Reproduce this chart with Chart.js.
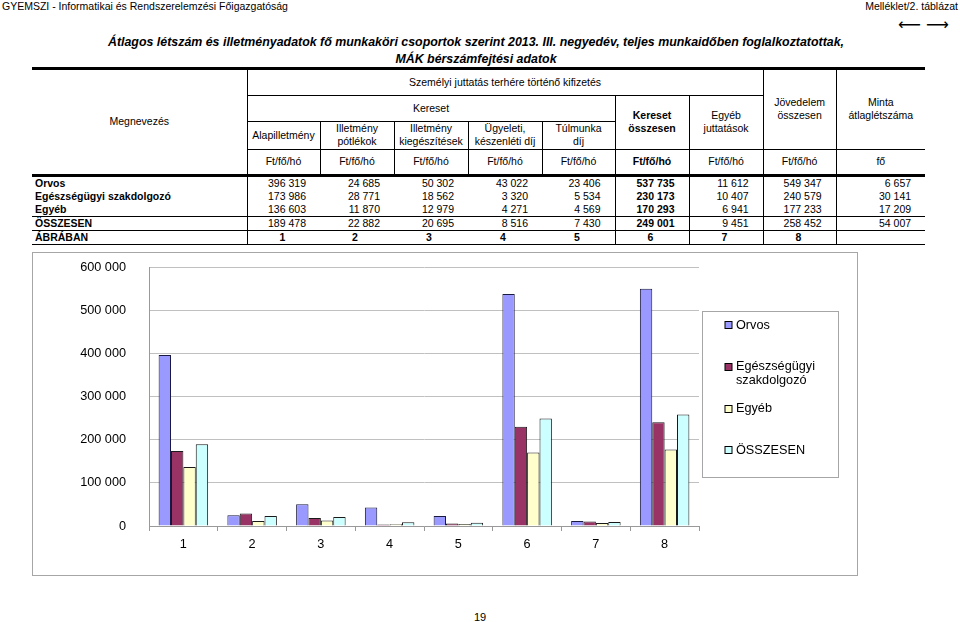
<!DOCTYPE html>
<html>
<head>
<meta charset="utf-8">
<script src="https://cdn.jsdelivr.net/npm/chart.js@4"></script>
<style>
    body { margin: 0; width: 960px; height: 622px; position: relative; overflow: hidden; background: #fff;
           font-family: "Liberation Sans", Arial, sans-serif; color: #000; }
    .top-left { position: absolute; left: 2px; top: 0px; font-size: 10.5px; }
    .top-right { position: absolute; right: 2px; top: 0px; font-size: 10.5px; }
    .arrows { position: absolute; left: 898px; top: 15px; font-size: 16px; font-family: "DejaVu Sans", sans-serif; }
    .title { position: absolute; left: 0; top: 34px; width: 952px; text-align: center; font-weight: bold;
             font-style: italic; font-size: 12.4px; line-height: 17px; }
    table { position: absolute; left: 32px; top: 67px; width: 893px; border-collapse: collapse; table-layout: fixed;
            font-size: 10.5px; border-top: 3px solid #000; }
    th { font-weight: normal; padding: 0; text-align: center; line-height: 13.3px; }
    td { padding: 0; height: 13px; line-height: 13px; white-space: nowrap; }
    .r { border-right: 1px solid #000; }
    .b { border-bottom: 1px solid #000; }
    .bold { font-weight: bold; }
    tbody tr:first-child td { border-top: 3px solid #000; }
    td.name { font-weight: bold; padding-left: 3px; text-align: left; }
    td.num { text-align: right; padding-right: 14px; }
    td.fig { text-align: left; padding-left: 32px; font-weight: bold; }
    tr.sum td { border-top: 1px solid #000; }
    tr.last td { border-top: 1px solid #000; border-bottom: 1px solid #000; }
    #chartBox { position: absolute; left: 32px; top: 252px; width: 824px; height: 322px; border: 1px solid #a6a6a6; }
    #barChart { display: block; }
    .page { position: absolute; left: 0; width: 960px; top: 611px; text-align: center; font-size: 11px; }
</style>
</head>
<body>
<div class="top-left">GYEMSZI - Informatikai és Rendszerelemzési Főigazgatóság</div>
<div class="top-right">Melléklet/2. táblázat</div>
<div class="arrows">⟵ ⟶</div>
<div class="title">Átlagos létszám és illetményadatok fő munkaköri csoportok szerint 2013. III. negyedév, teljes munkaidőben foglalkoztatottak,<br>MÁK bérszámfejtési adatok</div>

<table id="dataTable">
    <colgroup>
        <col style="width:215px"><col style="width:73px"><col style="width:74px"><col style="width:74px"><col style="width:74px">
        <col style="width:73px"><col style="width:74px"><col style="width:74px"><col style="width:73px"><col style="width:89px">
    </colgroup>
    <thead>
        <tr style="height:27px">
            <th rowspan="4" class="r">Megnevezés</th>
            <th colspan="7" class="r b">Személyi juttatás terhére történő kifizetés</th>
            <th rowspan="3" class="r b">Jövedelem<br>összesen</th>
            <th rowspan="3" class="b">Minta<br>átlaglétszáma</th>
        </tr>
        <tr style="height:26px">
            <th colspan="5" class="r b">Kereset</th>
            <th rowspan="2" class="r b bold">Kereset<br>összesen</th>
            <th rowspan="2" class="r b">Egyéb<br>juttatások</th>
        </tr>
        <tr style="height:27px">
            <th class="r b">Alapilletmény</th>
            <th class="r b">Illetmény<br>pótlékok</th>
            <th class="r b">Illetmény<br>kiegészítések</th>
            <th class="r b">Ügyeleti,<br>készenléti díj</th>
            <th class="r b">Túlmunka<br>díj</th>
        </tr>
        <tr id="unitRow" style="height:26px"></tr>
    </thead>
    <tbody id="tableBody"></tbody>
</table>

<div id="chartBox"><canvas id="barChart" width="824" height="322"></canvas></div>
<div class="page">19</div>

<script>
// Chart categories (column numbers of the table, "ÁBRÁBAN" row)
const categories = ['1', '2', '3', '4', '5', '6', '7', '8'];

// Ft/fő/hó values per column group
const orvos = [396319, 24685, 50302, 43022, 23406, 537735, 11612, 549347];
const szakdolgozo = [173986, 28771, 18562, 3320, 5534, 230173, 10407, 240579];
const egyeb = [136603, 11870, 12979, 4271, 4569, 170293, 6941, 177233];
const osszesen = [189478, 22882, 20695, 8516, 7430, 249001, 9451, 258452];

// Minta átlaglétszáma (fő)
const mintaLetszam = [6657, 30141, 17209, 54007];

const rowNames = ['Orvos', 'Egészségügyi szakdolgozó', 'Egyéb', 'ÖSSZESEN'];
const units = ['Ft/fő/hó', 'Ft/fő/hó', 'Ft/fő/hó', 'Ft/fő/hó', 'Ft/fő/hó', 'Ft/fő/hó', 'Ft/fő/hó', 'Ft/fő/hó', 'fő'];

const yTicks = [0, 100000, 200000, 300000, 400000, 500000, 600000];

function fmt(n) {
    return String(n).replace(/\B(?=(\d{3})+(?!\d))/g, ' ');
}

// Columns that carry a vertical line in the body (after Megnevezés, Túlmunka, Kereset, Egyéb, Jövedelem)
const lineAfter = [0, 5, 6, 7, 8];

// Build the unit row
const unitRow = document.getElementById('unitRow');
units.forEach((u, i) => {
    const th = document.createElement('th');
    if (i < units.length - 1) th.className = 'r';
    if (i === 5) th.className += ' bold';
    th.textContent = u;
    unitRow.appendChild(th);
});

// Build the body rows
const tbody = document.getElementById('tableBody');
[orvos, szakdolgozo, egyeb, osszesen].forEach((series, r) => {
    const tr = document.createElement('tr');
    if (r === 3) tr.className = 'sum';
    let html = '<td class="name r">' + rowNames[r] + '</td>';
    series.forEach((v, i) => {
        const col = i + 1;
        let cls = 'num';
        if (lineAfter.includes(col)) cls += ' r';
        if (col === 6) cls += ' bold';
        html += '<td class="' + cls + '">' + fmt(v) + '</td>';
    });
    html += '<td class="num">' + fmt(mintaLetszam[r]) + '</td>';
    tr.innerHTML = html;
    tbody.appendChild(tr);
});
const figRow = document.createElement('tr');
figRow.className = 'last';
let figHtml = '<td class="name r">ÁBRÁBAN</td>';
categories.forEach((c, i) => {
    const col = i + 1;
    figHtml += '<td class="fig' + (lineAfter.includes(col) ? ' r' : '') + '">' + c + '</td>';
});
figHtml += '<td></td>';
figRow.innerHTML = figHtml;
tbody.appendChild(figRow);

// Legend drawn in a framed box to the right of the plot
const FONT = '12.7px "Liberation Sans", Arial, sans-serif';
const legendBox = {
    id: 'legendBox',
    afterDraw(chart) {
        const ctx = chart.ctx;
        const area = chart.chartArea;
        const bx = Math.round(area.right) + 3;
        const by = 58;
        const bw = 136, bh = 166;
        ctx.save();
        ctx.strokeStyle = '#a6a6a6';
        ctx.lineWidth = 1;
        ctx.strokeRect(bx + 0.5, by + 0.5, bw, bh);
        ctx.font = FONT;
        ctx.fillStyle = '#000';
        ctx.textBaseline = 'middle';
        chart.data.datasets.forEach((ds, i) => {
            const y = by + 14 + i * 41.8;
            ctx.fillStyle = ds.backgroundColor;
            ctx.fillRect(bx + 23, Math.round(y - 4) + 0.5, 7, 7);
            ctx.strokeStyle = '#000';
            ctx.strokeRect(bx + 23, Math.round(y - 4) + 0.5, 7, 7);
            ctx.fillStyle = '#000';
            // simple word wrap
            const words = ds.label.split(' ');
            const lines = [];
            let cur = '';
            words.forEach(w => {
                const test = cur ? cur + ' ' + w : w;
                if (ctx.measureText(test).width > 96 && cur) {
                    lines.push(cur);
                    cur = w;
                } else {
                    cur = test;
                }
            });
            lines.push(cur);
            lines.forEach((line, j) => ctx.fillText(line, bx + 34, y + j * 13.4));
        });
        ctx.restore();
    }
};

const ctx = document.getElementById('barChart').getContext('2d');
new Chart(ctx, {
    type: 'bar',
    data: {
        labels: categories,
        datasets: [
            { label: rowNames[0], data: orvos, backgroundColor: '#9999ff', borderColor: '#1a1a40', borderWidth: 1 },
            { label: rowNames[1], data: szakdolgozo, backgroundColor: '#993366', borderColor: '#1a1a1a', borderWidth: 1 },
            { label: rowNames[2], data: egyeb, backgroundColor: '#ffffcc', borderColor: '#1a1a1a', borderWidth: 1 },
            { label: rowNames[3], data: osszesen, backgroundColor: '#ccffff', borderColor: '#1a1a1a', borderWidth: 1 }
        ]
    },
    options: {
        responsive: false,
        animation: false,
        devicePixelRatio: 1,
        layout: { padding: { top: 14, right: 158, left: 0, bottom: 0 } },
        datasets: { bar: { categoryPercentage: 0.72, barPercentage: 1 } },
        plugins: {
            legend: { display: false },
            tooltip: { enabled: false }
        },
        scales: {
            x: {
                offset: true,
                grid: { offset: true, drawOnChartArea: false, tickLength: 5, color: '#999' },
                border: { color: '#999' },
                ticks: { color: '#000', font: { family: '"Liberation Sans", Arial', size: 12.7 }, padding: 6 },
                afterFit: s => { s.height = 49; }
            },
            y: {
                min: 0,
                max: 600000,
                afterBuildTicks: s => { s.ticks = yTicks.map(v => ({ value: v })); },
                grid: { color: '#c0c0c0', drawTicks: true, tickLength: 20, tickColor: 'rgba(0,0,0,0)' },
                border: { color: '#999' },
                ticks: {
                    color: '#000',
                    padding: 3,
                    font: { family: '"Liberation Sans", Arial', size: 12.7 },
                    callback: v => fmt(v)
                },
                afterFit: s => { s.width = 116; }
            }
        }
    },
    plugins: [legendBox]
});
</script>
</body>
</html>
